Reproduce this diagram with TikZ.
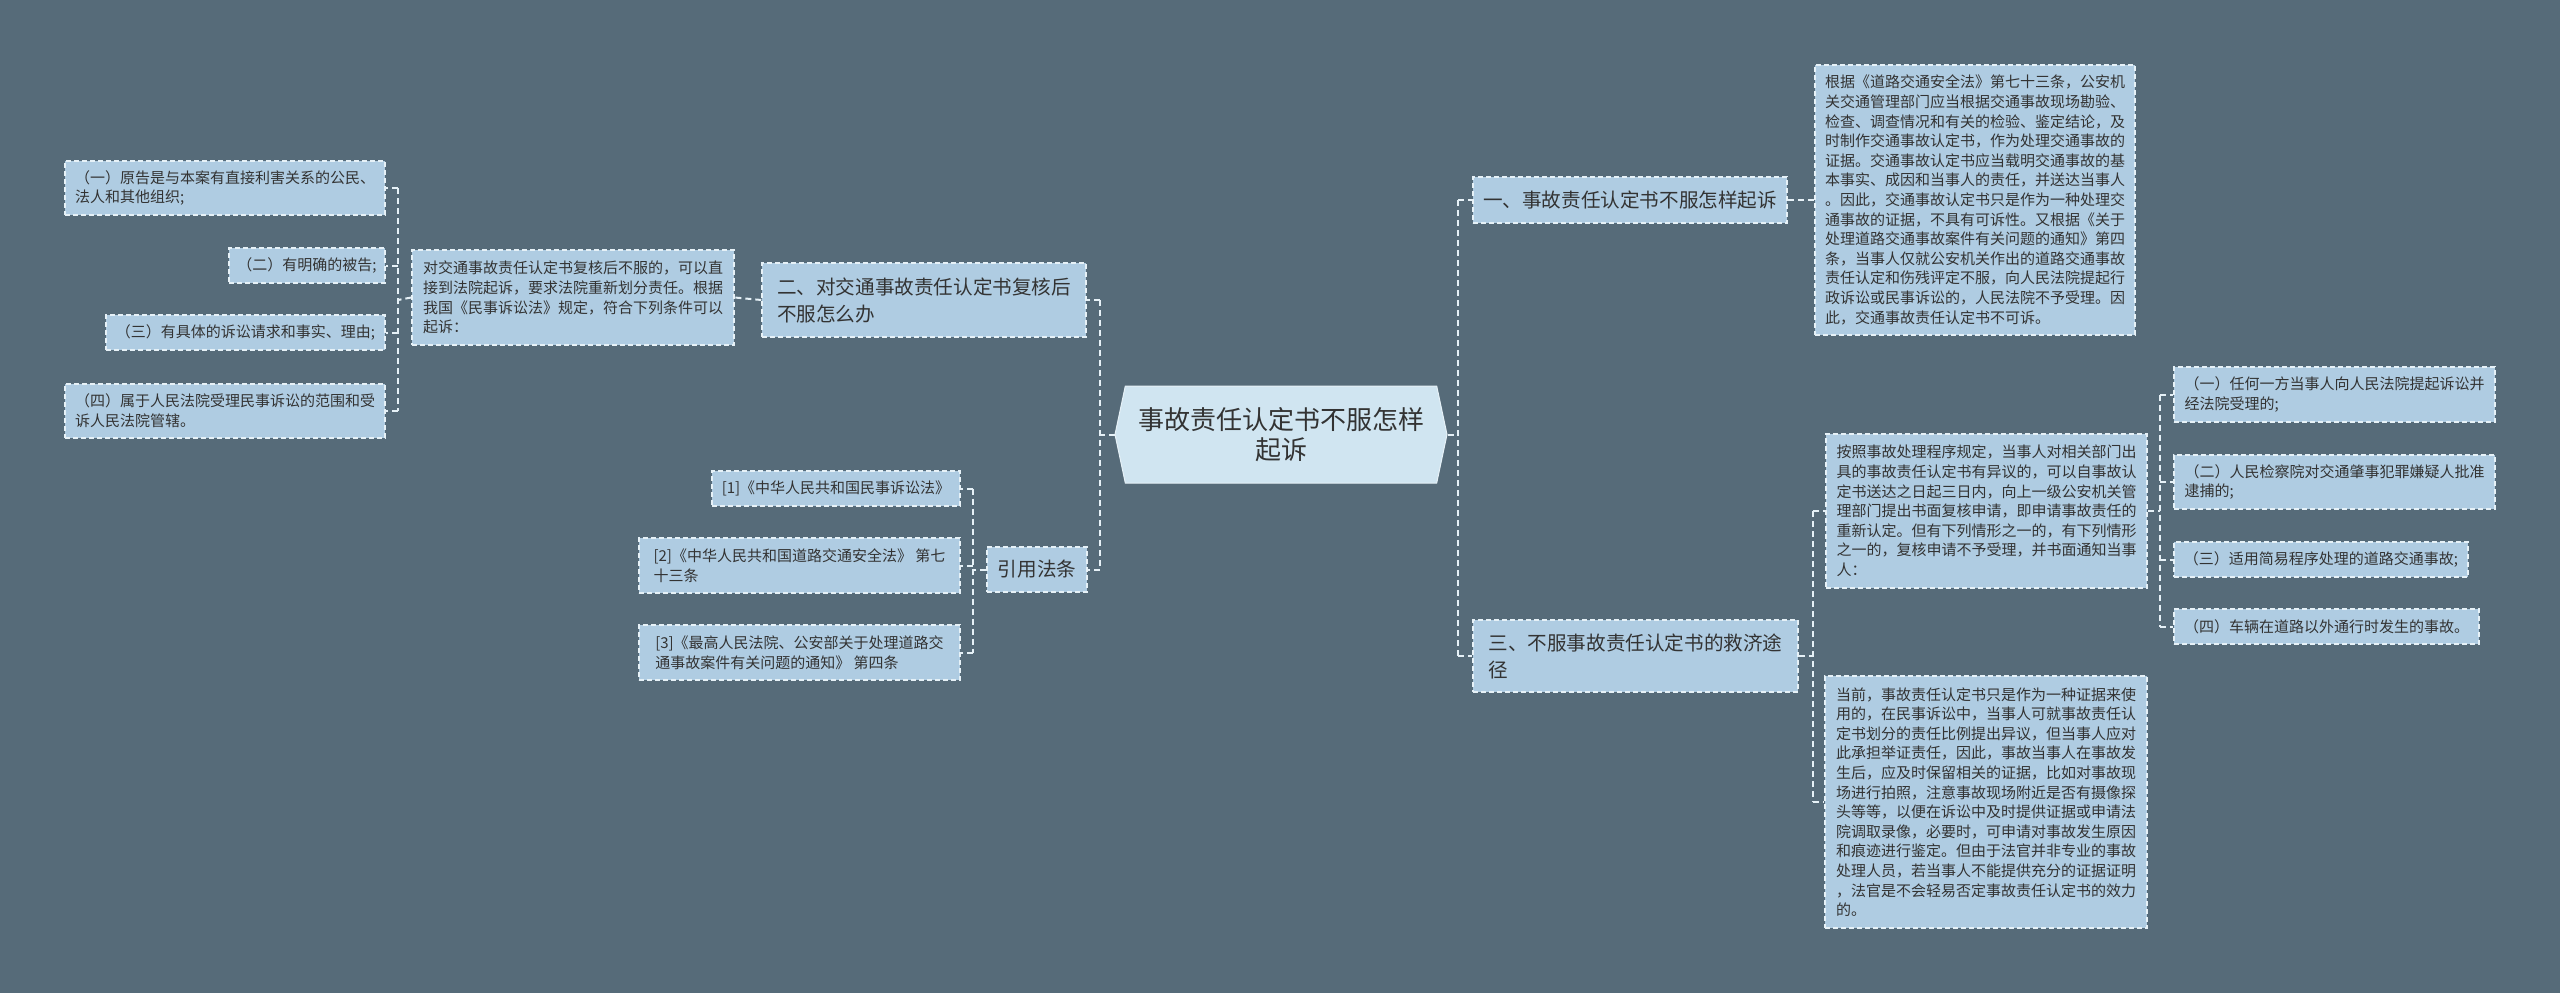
\documentclass[tikz,border=0pt]{standalone}
\usepackage{fontspec}
\newfontfamily\cjk{Noto Sans CJK SC}
\usetikzlibrary{shapes.symbols}
\definecolor{bgC}{HTML}{566B79}
\definecolor{nodeC}{HTML}{AFCCE2}
\definecolor{rootC}{HTML}{D0E5F1}
\definecolor{lineC}{HTML}{E6F1F7}
\definecolor{textC}{HTML}{333333}
\tikzset{
  topic/.style={draw=lineC, fill=nodeC, text=textC, line width=1.5pt,
    dash pattern=on 5pt off 3pt, inner sep=0pt, align=left,
    font=\cjk\fontsize{19.6}{27}\selectfont},
  leaf/.style={topic, font=\cjk\fontsize{15}{19.6}\selectfont},
  rootbox/.style={shape=signal, signal to=west and east, signal pointer angle=156,
    draw=lineC, line width=1pt, fill=rootC, text=textC, inner sep=0pt, align=center,
    font=\cjk\fontsize{26}{30}\selectfont},
  link/.style={draw=lineC, line width=2pt, dash pattern=on 6pt off 4pt}
}
\begin{document}
\begin{tikzpicture}[x=1pt,y=-1pt]
  \fill[bgC] (0,0) rectangle (2560,993);
  \useasboundingbox (0,0) rectangle (2560,993);
  %% centre
  \node (root) [rootbox, minimum width=332, minimum height=97] at (1281,434.5) {事故责任认定书不服怎样\\起诉};
  %% main branches
  \node (brA) [topic, minimum width=314, minimum height=46] at (1630,200) {一、事故责任认定书不服怎样起诉};
  \node (brB) [topic, minimum width=324, minimum height=74] at (924,300) {二、对交通事故责任认定书复核后\\不服怎么办};
  \node (brC) [topic, minimum width=325, minimum height=72] at (1635.5,656) {三、不服事故责任认定书的救济途\\径};
  \node (cite) [topic, minimum width=100, minimum height=45] at (1037,569.5) {引用法条};
  %% notes
  \node (noteA) [leaf, minimum width=320, minimum height=270] at (1975,200) {根据《道路交通安全法》第七十三条，公安机\\关交通管理部门应当根据交通事故现场勘验、\\检查、调查情况和有关的检验、鉴定结论，及\\时制作交通事故认定书，作为处理交通事故的\\证据。交通事故认定书应当载明交通事故的基\\本事实、成因和当事人的责任，并送达当事人\\。因此，交通事故认定书只是作为一种处理交\\通事故的证据，不具有可诉性。又根据《关于\\处理道路交通事故案件有关问题的通知》第四\\条，当事人仅就公安机关作出的道路交通事故\\责任认定和伤残评定不服，向人民法院提起行\\政诉讼或民事诉讼的，人民法院不予受理。因\\此，交通事故责任认定书不可诉。};
  \node (noteB) [leaf, minimum width=322, minimum height=95] at (573,297.5) {对交通事故责任认定书复核后不服的，可以直\\接到法院起诉，要求法院重新划分责任。根据\\我国《民事诉讼法》规定，符合下列条件可以\\起诉：};
  \node (noteC) [leaf, minimum width=321, minimum height=154] at (1986.5,511) {按照事故处理程序规定，当事人对相关部门出\\具的事故责任认定书有异议的，可以自事故认\\定书送达之日起三日内，向上一级公安机关管\\理部门提出书面复核申请，即申请事故责任的\\重新认定。但有下列情形之一的，有下列情形\\之一的，复核申请不予受理，并书面通知当事\\人：};
  \node (noteD) [leaf, minimum width=322, minimum height=252] at (1986,802) {当前，事故责任认定书只是作为一种证据来使\\用的，在民事诉讼中，当事人可就事故责任认\\定书划分的责任比例提出异议，但当事人应对\\此承担举证责任，因此，事故当事人在事故发\\生后，应及时保留相关的证据，比如对事故现\\场进行拍照，注意事故现场附近是否有摄像探\\头等等，以便在诉讼中及时提供证据或申请法\\院调取录像，必要时，可申请对事故发生原因\\和痕迹进行鉴定。但由于法官并非专业的事故\\处理人员，若当事人不能提供充分的证据证明\\，法官是不会轻易否定事故责任认定书的效力\\的。};
  %% left conditions
  \node (condA) [leaf, minimum width=320, minimum height=54] at (225,188) {（一）原告是与本案有直接利害关系的公民、\\法人和其他组织;};
  \node (condB) [leaf, minimum width=156, minimum height=35] at (307,265.5) {（二）有明确的被告;};
  \node (condC) [leaf, minimum width=279, minimum height=35] at (245.5,332.5) {（三）有具体的诉讼请求和事实、理由;};
  \node (condD) [leaf, minimum width=320, minimum height=54] at (225,411) {（四）属于人民法院受理民事诉讼的范围和受\\诉人民法院管辖。};
  %% laws
  \node (lawA) [leaf, minimum width=248, minimum height=35] at (836,488.5) {[1]《中华人民共和国民事诉讼法》};
  \node (lawB) [leaf, minimum width=321, minimum height=55] at (799.5,565.5) {[2]《中华人民共和国道路交通安全法》 第七\\十三条};
  \node (lawC) [leaf, minimum width=321, minimum height=55] at (799.5,652.5) {[3]《最高人民法院、公安部关于处理道路交\\通事故案件有关问题的通知》 第四条};
  %% right cases
  \node (caseA) [leaf, minimum width=321, minimum height=55] at (2334.5,394.5) {（一）任何一方当事人向人民法院提起诉讼并\\经法院受理的;};
  \node (caseB) [leaf, minimum width=321, minimum height=54] at (2334.5,482) {（二）人民检察院对交通肇事犯罪嫌疑人批准\\逮捕的;};
  \node (caseC) [leaf, minimum width=294, minimum height=35] at (2321,559.5) {（三）适用简易程序处理的道路交通事故;};
  \node (caseD) [leaf, minimum width=305, minimum height=35] at (2326.5,626.5) {（四）车辆在道路以外通行时发生的事故。};
  %% joints
  \coordinate (jRootL) at (1100,434.5);
  \coordinate (jRootR) at (1458,434.5);
  \coordinate (jCond) at (398,300);
  \coordinate (jLaw) at (973,569.5);
  \coordinate (jBrC) at (1813,656);
  \coordinate (jCase) at (2160,511);
  %% links
  \draw[link] (root.west) -- (jRootL);
  \draw[link] (jRootL |- brB.east) -- (jRootL |- cite.east);
  \draw[link] (jRootL |- brB.east) -- (brB.east);
  \draw[link] (jRootL |- cite.east) -- (cite.east);
  \draw[link] (root.east) -- (jRootR);
  \draw[link] (jRootR |- brA.west) -- (jRootR |- brC.west);
  \draw[link] (jRootR |- brA.west) -- (brA.west);
  \draw[link] (jRootR |- brC.west) -- (brC.west);
  \draw[link] (brA.east) -- (noteA.west);
  \draw[link] (brB.west) -- (noteB.east);
  \draw[link] (noteB.west) -- (jCond);
  \draw[link] (jCond |- condA.east) -- (jCond |- condD.east);
  \foreach \n in {condA,condB,condC,condD}
    \draw[link] (jCond |- \n.east) -- (\n.east);
  \draw[link] (cite.west) -- (jLaw);
  \draw[link] (jLaw |- lawA.east) -- (jLaw |- lawC.east);
  \foreach \n in {lawA,lawB,lawC}
    \draw[link] (jLaw |- \n.east) -- (\n.east);
  \draw[link] (brC.east) -- (jBrC);
  \draw[link] (jBrC |- noteC.west) -- (jBrC |- noteD.west);
  \foreach \n in {noteC,noteD}
    \draw[link] (jBrC |- \n.west) -- (\n.west);
  \draw[link] (noteC.east) -- (jCase);
  \draw[link] (jCase |- caseA.west) -- (jCase |- caseD.west);
  \foreach \n in {caseA,caseB,caseC,caseD}
    \draw[link] (jCase |- \n.west) -- (\n.west);
\end{tikzpicture}
\end{document}
